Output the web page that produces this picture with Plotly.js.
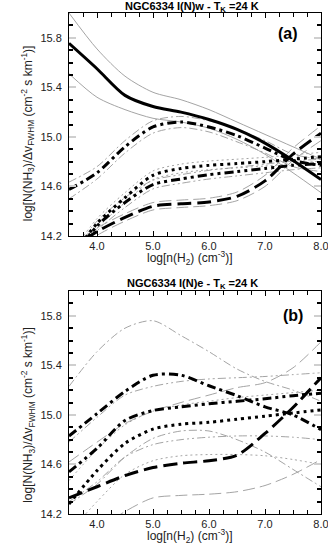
<!DOCTYPE html>
<html>
<head>
<meta charset="utf-8">
<script src="https://cdn.plot.ly/plotly-3.0.1.min.js"></script>
<style>
  html, body { margin: 0; padding: 0; background: #fff; }
  #chart { width: 328px; height: 547px; }
</style>
</head>
<body>
<div id="chart"></div>
<script>
// log n(H2) grid shared by all the curves
const logN = [3.5, 4.0, 4.5, 5.0, 5.5, 6.0, 6.5, 7.0, 7.5, 8.0];

// ---- panel (a): NGC6334 I(N)w ----
const wSolid      = [15.755, 15.55, 15.335, 15.245, 15.20, 15.14, 15.06, 14.95, 14.81, 14.656];
const wSolidHi    = [16.00, 15.71, 15.49, 15.36, 15.30, 15.22, 15.12, 15.02, 14.92, 14.82];
const wSolidLo    = [15.51, 15.32, 15.22, 15.15, 15.12, 15.07, 14.98, 14.86, 14.71, 14.55];
const wDashDot    = [14.575, 14.71, 14.92, 15.08, 15.12, 15.08, 15.01, 14.91, 14.81, 14.77];
const wDashDotHi  = [14.635, 14.76, 14.97, 15.13, 15.165, 15.13, 15.06, 14.97, 14.86, 14.82];
const wDashDotLo  = [14.50, 14.66, 14.87, 15.03, 15.075, 15.04, 14.96, 14.87, 14.76, 14.72];
const wDot        = [14.00, 14.30, 14.51, 14.69, 14.745, 14.77, 14.785, 14.80, 14.82, 14.84];
const wDotHi      = [14.04, 14.34, 14.55, 14.725, 14.78, 14.805, 14.82, 14.835, 14.855, 14.875];
const wDotLo      = [13.96, 14.26, 14.47, 14.655, 14.71, 14.735, 14.75, 14.765, 14.785, 14.805];
const wDDD        = [13.98, 14.28, 14.47, 14.615, 14.66, 14.695, 14.72, 14.745, 14.77, 14.785];
const wDDDHi      = [14.02, 14.32, 14.51, 14.65, 14.695, 14.73, 14.755, 14.78, 14.805, 14.82];
const wDDDLo      = [13.94, 14.24, 14.43, 14.58, 14.625, 14.66, 14.685, 14.71, 14.735, 14.75];
const wLong       = [14.08, 14.235, 14.35, 14.44, 14.46, 14.475, 14.52, 14.645, 14.86, 15.03];
const wLongHi     = [14.11, 14.265, 14.38, 14.47, 14.49, 14.505, 14.555, 14.69, 14.91, 15.09];
const wLongLo     = [14.05, 14.205, 14.32, 14.41, 14.43, 14.445, 14.485, 14.60, 14.81, 14.97];

// ---- panel (b): NGC6334 I(N)e ----
const eDashDot    = [14.83, 15.01, 15.19, 15.32, 15.32, 15.235, 15.155, 15.065, 15.00, 14.88];
const eDashDotHi  = [15.23, 15.51, 15.70, 15.76, 15.64, 15.51, 15.37, 15.27, 15.20, 15.11];
const eDashDotLo  = [14.28, 14.44, 14.66, 14.81, 14.87, 14.87, 14.80, 14.70, 14.56, 14.42];
const eDDD        = [14.54, 14.73, 14.955, 15.035, 15.065, 15.09, 15.11, 15.13, 15.155, 15.175];
const eDDDHi      = [14.78, 14.98, 15.16, 15.23, 15.27, 15.29, 15.30, 15.31, 15.325, 15.34];
const eDDDLo      = [14.30, 14.46, 14.66, 14.76, 14.80, 14.82, 14.83, 14.83, 14.82, 14.80];
const eDot        = [14.28, 14.55, 14.77, 14.885, 14.925, 14.94, 14.965, 14.99, 15.015, 15.04];
const eDotHi      = [14.47, 14.72, 14.92, 15.03, 15.08, 15.11, 15.14, 15.16, 15.18, 15.20];
const eDotLo      = [14.05, 14.30, 14.52, 14.63, 14.67, 14.68, 14.68, 14.67, 14.64, 14.60];
const eLong       = [14.33, 14.42, 14.51, 14.575, 14.61, 14.63, 14.675, 14.85, 15.06, 15.30];
const eLongHi     = [14.62, 14.78, 14.93, 15.03, 15.10, 15.16, 15.22, 15.26, 15.38, 15.59];
const eLongLo     = [13.95, 14.07, 14.22, 14.33, 14.35, 14.36, 14.38, 14.43, 14.52, 14.64];

const thickDash = {
    solid: 'solid',
    dashdot: '9px,4px,3px,4px',
    ddd: '9px,4px,3px,4px,3px,4px',
    dot: '3px,4px',
    long: '14px,6px'
};
const thinDash = {
    solid: 'solid',
    dashdot: '8px,3px,2px,3px',
    ddd: '8px,3px,2px,3px,2px,3px',
    dot: '2px,3px',
    long: '12px,5px'
};

function curve(xa, ya, values, style, thick) {
    return {
        x: logN,
        y: values,
        xaxis: xa,
        yaxis: ya,
        type: 'scatter',
        mode: 'lines',
        hoverinfo: 'skip',
        showlegend: false,
        line: {
            color: thick ? '#000' : '#9a9a9a',
            width: thick ? 3 : 0.9,
            dash: thick ? thickDash[style] : thinDash[style],
            shape: 'spline',
            smoothing: 0.8
        }
    };
}

const data = [
    // (a) thin bounds
    curve('x', 'y', wSolidHi, 'solid', false),
    curve('x', 'y', wSolidLo, 'solid', false),
    curve('x', 'y', wDashDotHi, 'dashdot', false),
    curve('x', 'y', wDashDotLo, 'dashdot', false),
    curve('x', 'y', wDotHi, 'dot', false),
    curve('x', 'y', wDotLo, 'dot', false),
    curve('x', 'y', wDDDHi, 'ddd', false),
    curve('x', 'y', wDDDLo, 'ddd', false),
    curve('x', 'y', wLongHi, 'long', false),
    curve('x', 'y', wLongLo, 'long', false),
    // (a) best fits
    curve('x', 'y', wSolid, 'solid', true),
    curve('x', 'y', wDashDot, 'dashdot', true),
    curve('x', 'y', wDot, 'dot', true),
    curve('x', 'y', wDDD, 'ddd', true),
    curve('x', 'y', wLong, 'long', true),
    // (b) thin bounds
    curve('x2', 'y2', eDashDotHi, 'dashdot', false),
    curve('x2', 'y2', eDashDotLo, 'dashdot', false),
    curve('x2', 'y2', eDDDHi, 'ddd', false),
    curve('x2', 'y2', eDDDLo, 'ddd', false),
    curve('x2', 'y2', eDotHi, 'dot', false),
    curve('x2', 'y2', eDotLo, 'dot', false),
    curve('x2', 'y2', eLongHi, 'long', false),
    curve('x2', 'y2', eLongLo, 'long', false),
    // (b) best fits
    curve('x2', 'y2', eDashDot, 'dashdot', true),
    curve('x2', 'y2', eDDD, 'ddd', true),
    curve('x2', 'y2', eDot, 'dot', true),
    curve('x2', 'y2', eLong, 'long', true)
];

const font = 'Liberation Sans, Arial, Helvetica, sans-serif';

function xAxis(anchor) {
    return {
        anchor: anchor,
        domain: [0, 1],
        range: [3.5, 8.0],
        tick0: 4,
        dtick: 1,
        tickformat: '.1f',
        ticks: 'inside',
        ticklen: 5,
        tickcolor: '#000',
        ticklabeloverflow: 'allow',
        showline: true,
        linecolor: '#000',
        linewidth: 1,
        mirror: 'ticks',
        showgrid: false,
        zeroline: false,
        tickfont: { family: font, size: 11, color: '#222' },
        minor: { tick0: 3.5, dtick: 0.25, ticks: 'inside', ticklen: 4, tickcolor: '#000', showgrid: false },
        fixedrange: true
    };
}

function yAxis(anchor, domain) {
    return {
        anchor: anchor,
        domain: domain,
        range: [14.2, 16.0],
        tick0: 14.2,
        dtick: 0.4,
        tickformat: '.1f',
        ticks: 'inside',
        ticklen: 7,
        tickwidth: 2,
        tickcolor: '#cfcfcf',
        ticklabelstandoff: 4,
        ticklabeloverflow: 'allow',
        showline: true,
        linecolor: '#000',
        linewidth: 1,
        mirror: 'ticks',
        showgrid: false,
        zeroline: false,
        tickfont: { family: font, size: 11, color: '#222' },
        minor: { tick0: 14.2, dtick: 0.1, ticks: 'inside', ticklen: 4, tickcolor: '#000', showgrid: false },
        fixedrange: true
    };
}

const topA = 1, botA = 0.5549, topB = 0.4451, botB = 0;
const xTitle = 'log[n(H<sub>2</sub>) (cm<sup>-3</sup>)]';
const yTitle = 'log[N(NH<sub>3</sub>)/\u0394v<sub>FWHM</sub> (cm<sup>-2</sup> s km<sup>-1</sup>)]';

const annotations = [
    { text: '<b>NGC6334 I(N)w - T<sub>K</sub> =24 K</b>', xref: 'paper', yref: 'paper', x: 0.49, y: topA,
      xanchor: 'center', yanchor: 'middle', yshift: 6, showarrow: false, font: { family: font, size: 11, color: '#000' } },
    { text: '<b>NGC6334 I(N)e - T<sub>K</sub> =24 K</b>', xref: 'paper', yref: 'paper', x: 0.49, y: topB,
      xanchor: 'center', yanchor: 'middle', yshift: 7, showarrow: false, font: { family: font, size: 11, color: '#000' } },
    { text: xTitle, xref: 'paper', yref: 'paper', x: 0.48, y: botA, xanchor: 'center', yanchor: 'middle', yshift: -22,
      showarrow: false, font: { family: font, size: 12, color: '#222' } },
    { text: xTitle, xref: 'paper', yref: 'paper', x: 0.48, y: botB, xanchor: 'center', yanchor: 'middle', yshift: -22,
      showarrow: false, font: { family: font, size: 12, color: '#222' } },
    { text: yTitle, xref: 'paper', yref: 'paper', x: 0, xshift: -41, y: 0.760, textangle: -90,
      xanchor: 'center', yanchor: 'middle', showarrow: false, font: { family: font, size: 12, color: '#222' } },
    { text: yTitle, xref: 'paper', yref: 'paper', x: 0, xshift: -41, y: 0.198, textangle: -90,
      xanchor: 'center', yanchor: 'middle', showarrow: false, font: { family: font, size: 12, color: '#222' } },
    { text: '<b>(a)</b>', xref: 'x domain', yref: 'y domain', x: 0.87, y: 0.91, showarrow: false,
      xanchor: 'center', yanchor: 'middle', font: { family: font, size: 16, color: '#000' } },
    { text: '<b>(b)</b>', xref: 'x2 domain', yref: 'y2 domain', x: 0.89, y: 0.892, showarrow: false,
      xanchor: 'center', yanchor: 'middle', font: { family: font, size: 16, color: '#000' } }
];

const layout = {
    width: 328,
    height: 547,
    margin: { l: 69, r: 7, t: 13, b: 33 },
    paper_bgcolor: '#fff',
    plot_bgcolor: '#fff',
    showlegend: false,
    xaxis: xAxis('y'),
    yaxis: yAxis('x', [botA, topA]),
    xaxis2: xAxis('y2'),
    yaxis2: yAxis('x2', [botB, topB]),
    annotations: annotations
};

Plotly.newPlot('chart', data, layout, { staticPlot: true, displayModeBar: false });
</script>
</body>
</html>
